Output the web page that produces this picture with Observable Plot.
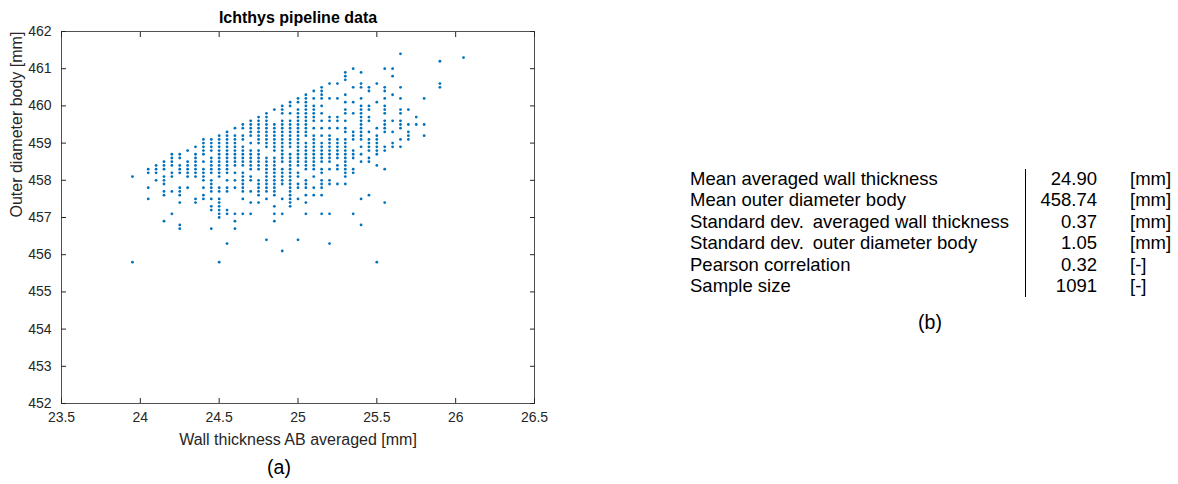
<!DOCTYPE html>
<html><head><meta charset="utf-8">
<script src="https://cdn.jsdelivr.net/npm/d3@7"></script>
<script src="https://cdn.jsdelivr.net/npm/@observablehq/plot@0.6"></script>
<style>
body{margin:0;background:#fff;width:1178px;height:484px;overflow:hidden;position:relative;font-family:"Liberation Sans",Arial,Helvetica,sans-serif;}
#chart{position:absolute;left:0;top:0;}
.s{position:absolute;font-size:18.5px;color:#000;white-space:pre;line-height:1;}
</style></head><body>
<div id="chart"></div>
<div id="stats"></div>
<script>
// wall thickness columns (mm) and outer diameter values (mm) observed in each column
const wallThickness = [23.95, 24.00, 24.05, 24.10, 24.15, 24.20, 24.25, 24.30, 24.35, 24.40, 24.45, 24.50, 24.55, 24.60, 24.65, 24.70, 24.75, 24.80, 24.85, 24.90, 24.95, 25.00, 25.05, 25.10, 25.15, 25.20, 25.25, 25.30, 25.35, 25.40, 25.45, 25.50, 25.55, 25.60, 25.65, 25.70, 25.75, 25.80, 25.85, 25.90, 25.95, 26.00, 26.05];
const outerDiameter = [
  [458.1, 455.8],
  [],
  [458.3, 458.2, 457.8, 457.5],
  [458.4, 458.3, 458.2, 458.0],
  [458.5, 458.4, 458.3, 458.1, 458.0, 457.9, 457.7, 457.6, 456.9],
  [458.7, 458.6, 458.5, 458.4, 458.2, 458.1, 457.7, 457.1],
  [458.7, 458.6, 458.4, 458.3, 458.2, 457.8, 457.7, 457.6, 457.4, 456.8, 456.7],
  [458.8, 458.5, 458.4, 458.3, 458.2, 458.1, 457.8],
  [458.9, 458.7, 458.6, 458.5, 458.4, 458.3, 458.2, 458.1, 457.5, 457.4],
  [459.1, 459.0, 458.9, 458.8, 458.7, 458.5, 458.3, 458.2, 458.1, 458.0, 457.8, 457.6, 457.5],
  [459.1, 459.0, 458.9, 458.8, 458.6, 458.5, 458.4, 458.3, 458.2, 458.0, 457.9, 457.8, 457.7, 457.5, 457.3, 457.2, 456.7],
  [459.2, 459.1, 459.0, 458.9, 458.8, 458.7, 458.6, 458.5, 458.4, 458.3, 458.2, 458.1, 457.8, 457.7, 457.5, 457.4, 457.3, 457.2, 457.1, 457.0, 455.8],
  [459.3, 459.2, 459.1, 459.0, 458.9, 458.8, 458.7, 458.6, 458.5, 458.4, 458.3, 458.2, 458.0, 457.8, 457.7, 457.2, 457.1, 456.3],
  [459.4, 459.2, 459.1, 459.0, 458.9, 458.8, 458.7, 458.6, 458.5, 458.4, 458.2, 458.0, 457.8, 457.1, 456.9, 456.7],
  [459.5, 459.4, 459.2, 459.1, 458.9, 458.8, 458.7, 458.6, 458.5, 458.4, 458.2, 458.1, 458.0, 457.9, 457.8, 457.7, 457.5, 457.1],
  [459.6, 459.5, 459.4, 459.3, 459.2, 459.0, 458.8, 458.7, 458.6, 458.5, 458.4, 458.3, 458.1, 458.0, 457.7, 457.4, 457.1],
  [459.7, 459.6, 459.5, 459.4, 459.3, 459.2, 459.1, 459.0, 458.8, 458.7, 458.6, 458.5, 458.4, 458.3, 458.0, 457.9, 457.8, 457.7, 457.6, 457.4],
  [459.8, 459.7, 459.6, 459.5, 459.4, 459.3, 459.2, 459.1, 459.0, 458.9, 458.6, 458.5, 458.4, 458.3, 458.2, 458.1, 458.0, 457.9, 457.8, 457.7, 457.5, 456.4],
  [459.9, 459.5, 459.4, 459.3, 459.2, 459.1, 459.0, 458.9, 458.8, 458.6, 458.5, 458.4, 458.3, 458.2, 458.1, 458.0, 457.9, 457.8, 457.7, 457.6, 457.3, 457.1, 456.9],
  [460.0, 459.9, 459.8, 459.6, 459.5, 459.4, 459.3, 459.2, 459.1, 459.0, 458.9, 458.8, 458.7, 458.6, 458.5, 458.3, 458.2, 458.1, 458.0, 457.9, 457.5, 457.1, 456.1],
  [460.1, 460.0, 459.8, 459.6, 459.5, 459.4, 459.3, 459.2, 459.1, 459.0, 458.9, 458.7, 458.6, 458.5, 458.4, 458.3, 458.2, 458.1, 458.0, 457.9, 457.8, 457.7, 457.6, 457.5, 457.4, 457.3],
  [460.2, 460.1, 459.9, 459.8, 459.7, 459.6, 459.5, 459.4, 459.3, 459.2, 459.1, 459.0, 458.9, 458.8, 458.7, 458.6, 458.5, 458.4, 458.2, 458.1, 457.9, 457.8, 457.5, 456.4],
  [460.3, 460.2, 460.1, 460.0, 459.9, 459.8, 459.7, 459.6, 459.5, 459.4, 459.3, 459.2, 459.0, 458.9, 458.8, 458.7, 458.6, 458.5, 458.4, 458.3, 458.0, 457.9, 457.8, 457.6, 457.4, 457.1],
  [460.4, 460.2, 460.0, 459.9, 459.8, 459.7, 459.6, 459.4, 459.2, 459.1, 459.0, 458.9, 458.8, 458.7, 458.6, 458.5, 458.4, 458.3, 458.1, 457.8, 457.6],
  [460.5, 460.4, 460.3, 460.2, 460.0, 459.8, 459.6, 459.4, 459.2, 459.0, 458.9, 458.8, 458.7, 458.6, 458.5, 458.3, 458.2, 458.0, 457.9, 457.8, 457.6, 457.1],
  [460.6, 460.2, 459.7, 459.6, 459.4, 459.2, 459.1, 459.0, 458.9, 458.8, 458.7, 458.6, 458.5, 458.3, 458.0, 457.9, 457.1, 456.3],
  [460.6, 460.2, 459.7, 459.6, 459.4, 459.1, 459.0, 458.9, 458.8, 458.7, 458.6, 458.4, 458.3, 457.9],
  [460.9, 460.8, 460.7, 460.3, 460.1, 459.9, 459.8, 459.6, 459.4, 459.3, 459.1, 459.0, 458.9, 458.8, 458.7, 458.6, 458.5, 458.4, 458.3, 458.2, 458.1, 457.9],
  [461.0, 460.5, 460.1, 459.8, 459.3, 459.2, 459.1, 458.8, 458.7, 458.6, 458.3, 458.2, 457.1],
  [460.9, 460.6, 460.5, 460.2, 460.0, 459.9, 459.8, 459.7, 459.6, 459.5, 459.4, 459.3, 459.2, 459.1, 458.9, 458.7, 458.5, 457.5, 456.8],
  [460.5, 460.4, 460.0, 459.9, 459.7, 459.6, 459.3, 459.1, 459.0, 458.9, 458.8, 458.6, 458.5, 457.6],
  [460.6, 460.1, 459.4, 459.2, 459.1, 459.0, 458.9, 458.8, 458.7, 458.4, 455.8],
  [461.0, 460.5, 460.4, 460.2, 460.0, 459.9, 459.8, 459.6, 459.5, 459.4, 459.3, 458.9, 458.8, 458.3, 457.4],
  [461.0, 460.8, 460.3, 459.6, 459.3, 459.0, 458.9],
  [461.4, 460.5, 460.2, 459.9, 459.8, 459.6, 459.5, 459.4, 459.1, 458.9],
  [459.9, 459.5, 459.3, 459.2, 459.1],
  [459.7, 459.5],
  [460.2, 459.5, 459.2],
  [],
  [461.2, 460.6, 460.5],
  [],
  [],
  [461.3]
];
const xTicks = [23.5, 24, 24.5, 25, 25.5, 26, 26.5];
const yTicks = [452, 453, 454, 455, 456, 457, 458, 459, 460, 461, 462];
const chartTitle = "Ichthys pipeline data";
const xLabel = "Wall thickness AB averaged [mm]";
const yLabel = "Outer diameter body [mm]";
const panelA = "(a)";
const panelB = "(b)";
const statLabels = ["Mean averaged wall thickness", "Mean outer diameter body", "Standard dev.\u2009 averaged wall thickness", "Standard dev.\u2009 outer diameter body", "Pearson correlation", "Sample size"];
const statValues = ["24.90", "458.74", "0.37", "1.05", "0.32", "1091"];
const statUnits = ["[mm]", "[mm]", "[mm]", "[mm]", "[-]", "[-]"];

const points = wallThickness.flatMap((x, i) => outerDiameter[i].map(y => ({x, y})));
const axisColor = "#262626";
const plainNumber = d => `${d}`;
const plot = Plot.plot({
  width: 560, height: 484,
  marginLeft: 61, marginRight: 26, marginTop: 31, marginBottom: 81,
  style: {fontFamily: "'Liberation Sans', Arial, sans-serif", fontSize: "14px", color: axisColor, background: "transparent", overflow: "visible"},
  x: {domain: [23.5, 26.5]},
  y: {domain: [452, 462]},
  marks: [
    Plot.frame({stroke: axisColor, strokeWidth: 0.8}),
    Plot.axisX({anchor: "bottom", ticks: xTicks, tickFormat: plainNumber, tickSize: -5, tickPadding: 14, label: null}),
    Plot.axisX({anchor: "top", ticks: xTicks, tickSize: -5, tickFormat: () => "", label: null}),
    Plot.axisY({anchor: "left", ticks: yTicks, tickFormat: plainNumber, tickSize: -5, tickPadding: 15, label: null}),
    Plot.axisY({anchor: "right", ticks: yTicks, tickSize: -5, tickFormat: () => "", label: null}),
    Plot.dot(points, {x: "x", y: "y", r: 1.4, fill: "#0072BD", stroke: null}),
    Plot.text([chartTitle], {frameAnchor: "top", lineAnchor: "middle", dy: -14, fontWeight: "bold", fontSize: 16, fill: "#000"}),
    Plot.text([xLabel], {frameAnchor: "bottom", lineAnchor: "middle", dy: 36, fontSize: 16, fill: axisColor}),
    Plot.text([yLabel], {frameAnchor: "left", dx: -45, rotate: -90, fontSize: 16, fill: axisColor}),
    Plot.text([panelA], {frameAnchor: "bottom", lineAnchor: "middle", dx: -19, dy: 64, fontSize: 19.5, fill: "#000"})
  ]
});
document.getElementById("chart").appendChild(plot);

const stats = document.getElementById("stats");
const rowTop = 170, rowStep = 21.4;
statLabels.forEach((lab, i) => {
  const top = rowTop + i * rowStep;
  stats.insertAdjacentHTML("beforeend",
    `<div class="s" style="left:690px;top:${top}px">${lab}</div>` +
    `<div class="s" style="right:${1178-1097}px;top:${top}px;text-align:right">${statValues[i]}</div>` +
    `<div class="s" style="left:1130px;top:${top}px">${statUnits[i]}</div>`);
});
stats.insertAdjacentHTML("beforeend",
  `<div style="position:absolute;left:1025px;top:${rowTop - 1}px;width:0;height:${rowStep*6}px;border-left:1px solid #000"></div>` +
  `<div class="s" style="left:930px;top:313px;transform:translateX(-50%);font-size:19.5px">${panelB}</div>`);
</script></body></html>
